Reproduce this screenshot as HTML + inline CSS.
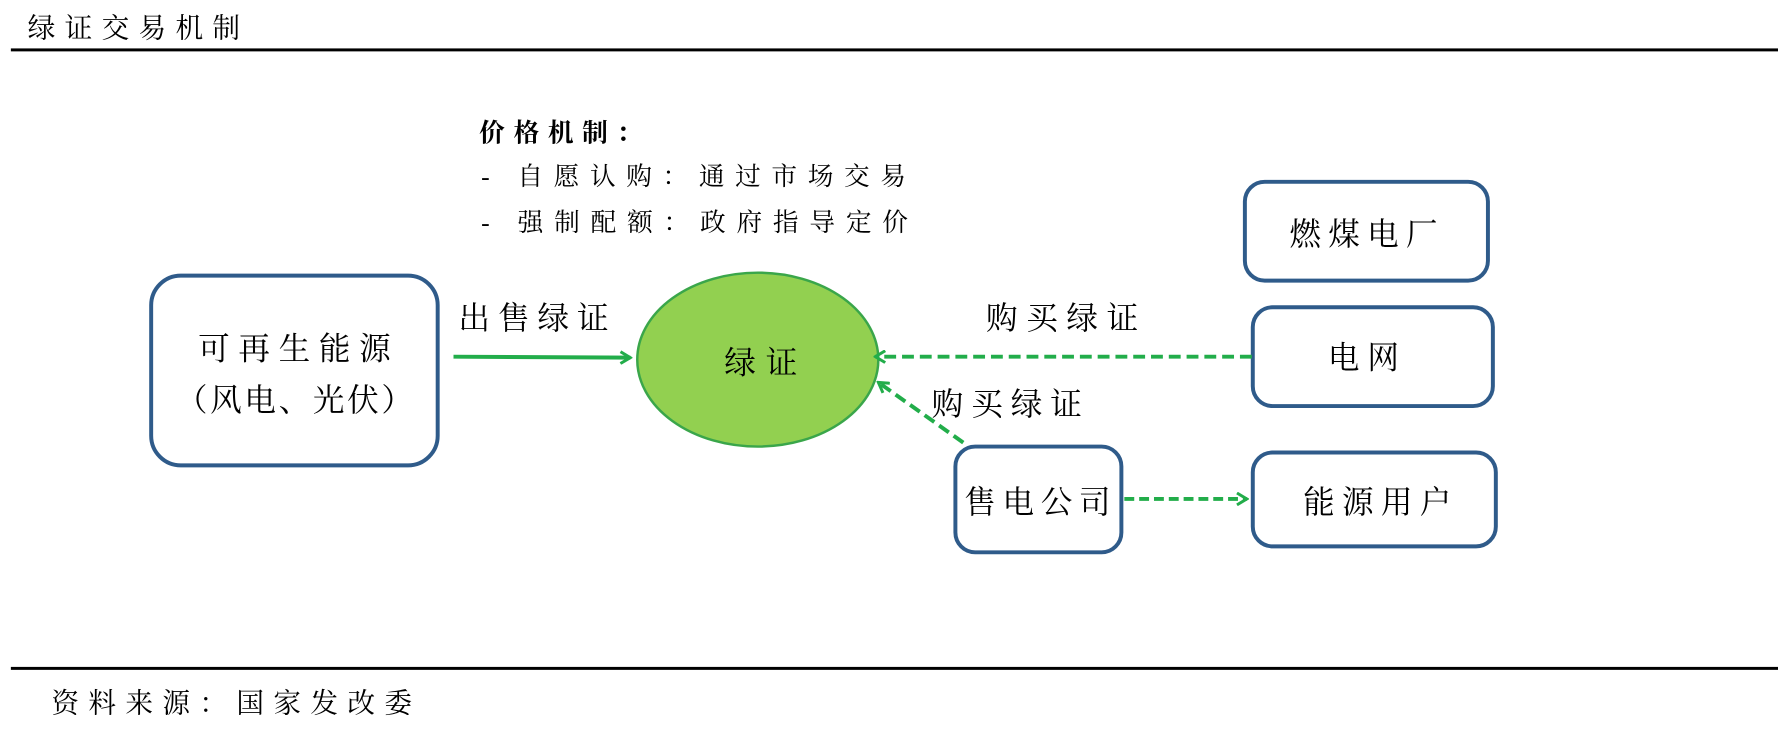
<!DOCTYPE html>
<html><head><meta charset="utf-8"><style>
html,body{margin:0;padding:0;background:#fff;}
svg{display:block;}
text{font-family:"Liberation Serif","Noto Serif CJK SC",serif;fill:#000;}
</style></head><body>
<svg width="1778" height="737" viewBox="0 0 1778 737" xmlns="http://www.w3.org/2000/svg">
<defs>
<marker id="ah" markerWidth="14" markerHeight="14" refX="12" refY="7" orient="auto" markerUnits="userSpaceOnUse">
<path d="M2,1 L12,7 L2,13" fill="none" stroke="#22ad4a" stroke-width="3"/>
</marker>
</defs>
<g transform="scale(0.988)">
<text x="28" y="38" font-size="28" textLength="215" lengthAdjust="spacing">绿证交易机制</text>
<rect x="11" y="49" width="1800" height="3" fill="#000"/>
<rect x="11" y="675" width="1800" height="3" fill="#000"/>
<text x="52" y="721" font-size="28" textLength="365" lengthAdjust="spacing">资料来源：国家发改委</text>

<text x="485" y="143" font-size="26" font-weight="bold" textLength="165" lengthAdjust="spacing">价格机制：</text>
<text x="487" y="187" font-size="26" textLength="430" lengthAdjust="spacing">- 自愿认购：通过市场交易</text>
<text x="487" y="234" font-size="26" textLength="432" lengthAdjust="spacing">- 强制配额：政府指导定价</text>

<rect x="153" y="279" width="290" height="192" rx="30" fill="#fff" stroke="#2f5b8a" stroke-width="4"/>
<text x="298" y="364" font-size="32" text-anchor="middle" textLength="195" lengthAdjust="spacing">可再生能源</text>
<text x="298" y="416" font-size="32" text-anchor="middle" textLength="240" lengthAdjust="spacing">（风电、光伏）</text>

<line x1="459" y1="361" x2="638" y2="362" stroke="#22ad4a" stroke-width="4" marker-end="url(#ah)"/>
<text x="464" y="333" font-size="32" textLength="152" lengthAdjust="spacing">出售绿证</text>

<ellipse cx="767" cy="364" rx="122" ry="88" fill="#92d050" stroke="#3aa64a" stroke-width="2.5"/>
<text x="770" y="378" font-size="32" text-anchor="middle" textLength="74" lengthAdjust="spacing">绿证</text>

<rect x="1260" y="184" width="246" height="100" rx="20" fill="#fff" stroke="#2f5b8a" stroke-width="4"/>
<text x="1380" y="248" font-size="32" text-anchor="middle" textLength="150" lengthAdjust="spacing">燃煤电厂</text>

<rect x="1268" y="311" width="243" height="100" rx="20" fill="#fff" stroke="#2f5b8a" stroke-width="4"/>
<text x="1380" y="373" font-size="32" text-anchor="middle" textLength="72" lengthAdjust="spacing">电网</text>

<rect x="967" y="452" width="168" height="107" rx="20" fill="#fff" stroke="#2f5b8a" stroke-width="4"/>
<text x="1050" y="519" font-size="32" text-anchor="middle" textLength="148" lengthAdjust="spacing">售电公司</text>

<rect x="1268" y="458" width="246" height="95" rx="20" fill="#fff" stroke="#2f5b8a" stroke-width="4"/>
<text x="1394" y="519" font-size="32" text-anchor="middle" textLength="150" lengthAdjust="spacing">能源用户</text>

<line x1="1267" y1="361" x2="886" y2="361" stroke="#22ad4a" stroke-width="4" stroke-dasharray="12,6" marker-end="url(#ah)"/>
<text x="998" y="333" font-size="32" textLength="154" lengthAdjust="spacing">购买绿证</text>

<line x1="975" y1="448" x2="889" y2="387" stroke="#22ad4a" stroke-width="4" stroke-dasharray="12,6" marker-end="url(#ah)"/>
<text x="943" y="420" font-size="32" textLength="152" lengthAdjust="spacing">购买绿证</text>

<line x1="1138" y1="505" x2="1262" y2="505" stroke="#22ad4a" stroke-width="4" stroke-dasharray="10,5" marker-end="url(#ah)"/>
</g>
</svg>
</body></html>
